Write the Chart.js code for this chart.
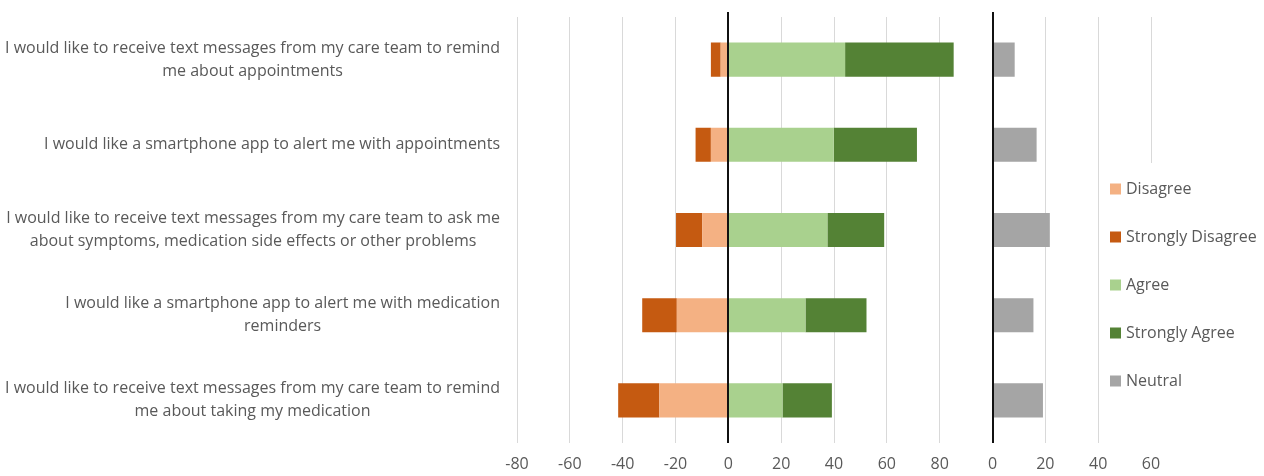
<!DOCTYPE html>
<html>
<head>
<meta charset="utf-8">
<script src="https://cdn.jsdelivr.net/npm/chart.js@4/dist/chart.umd.min.js"></script>
<style>
  html, body { margin: 0; padding: 0; background: #fff; }
  #wrap { position: relative; width: 1264px; height: 476px; }
</style>
</head>
<body>
<div id="wrap"><canvas id="c" width="1264" height="476"></canvas></div>
<script>
// Survey statements (wrapped as shown on the axis)
const statements = [
  ['I would like to receive text messages from my care team to remind', 'me about appointments'],
  ['I would like a smartphone app to alert me with appointments'],
  ['I would like to receive text messages from my care team to ask me', 'about symptoms, medication side effects or other problems'],
  ['I would like a smartphone app to alert me with medication', 'reminders'],
  ['I would like to receive text messages from my care team to remind', 'me about taking my medication']
];

// Percent of respondents per answer
const disagree         = [2.9, 6.6, 9.9, 19.5, 26.1];
const stronglyDisagree = [3.7, 5.8, 9.9, 13.1, 15.6];
const agree            = [44.2, 39.9, 37.5, 29.2, 20.5];
const stronglyAgree    = [41.1, 31.5, 21.5, 23.1, 18.7];
const neutral          = [8.4, 16.7, 21.7, 15.5, 19.1];

// Axis ticks
const mainTicks    = [-80, -60, -40, -20, 0, 20, 40, 60, 80];
const neutralTicks = [0, 20, 40, 60];

const seriesNames  = ['Disagree', 'Strongly Disagree', 'Agree', 'Strongly Agree', 'Neutral'];
const seriesColors = ['#F4B183', '#C55A11', '#A9D18E', '#548235', '#A5A5A5'];

const FONT = '"Open Sans", "Liberation Sans", sans-serif';
const TEXT = '#595959';

// Statement labels: each block right-aligned, its lines centred on each other
const statementLabels = {
  id: 'statementLabels',
  afterDraw(chart) {
    const { ctx } = chart;
    const y = chart.scales.y;
    const right = 500, lh = 23;
    ctx.save();
    ctx.font = '16px ' + FONT;
    ctx.fillStyle = TEXT;
    ctx.textAlign = 'center';
    ctx.textBaseline = 'middle';
    statements.forEach((lines, i) => {
      const cy = y.getPixelForValue(i);
      const w = Math.max(...lines.map(l => ctx.measureText(l).width));
      const cx = right - w / 2;
      lines.forEach((l, j) => ctx.fillText(l, cx, cy + (j - (lines.length - 1) / 2) * lh));
    });
    ctx.restore();
  }
};

// Black zero lines of both panels, drawn over the bars
const zeroLines = {
  id: 'zeroLines',
  afterDatasetsDraw(chart) {
    const { ctx, chartArea } = chart;
    ctx.save();
    ctx.strokeStyle = '#111';
    ctx.lineWidth = 2;
    ['x', 'x2'].forEach(id => {
      const px = Math.round(chart.scales[id].getPixelForValue(0));
      ctx.beginPath();
      ctx.moveTo(px, chartArea.top - 5);
      ctx.lineTo(px, chartArea.bottom);
      ctx.stroke();
    });
    ctx.restore();
  }
};

// Legend box on a white panel at the right
const sideLegend = {
  id: 'sideLegend',
  afterDraw(chart) {
    const { ctx } = chart;
    ctx.save();
    ctx.fillStyle = '#fff';
    ctx.fillRect(1104, 163, 160, 283);
    ctx.font = '16px ' + FONT;
    ctx.textBaseline = 'middle';
    ctx.textAlign = 'left';
    chart.data.datasets.forEach((ds, i) => {
      const cy = 189 + i * 48;
      ctx.fillStyle = ds.backgroundColor;
      ctx.fillRect(1110, cy - 5.5, 11, 11);
      ctx.fillStyle = TEXT;
      ctx.fillText(ds.label, 1126, cy + 0.5);
    });
    ctx.restore();
  }
};

const values = [
  disagree.map(v => -v),
  stronglyDisagree.map(v => -v),
  agree,
  stronglyAgree,
  neutral
];

const datasets = seriesNames.map((name, i) => ({
  label: name,
  data: values[i],
  backgroundColor: seriesColors[i],
  borderWidth: 0,
  xAxisID: i === 4 ? 'x2' : 'x',
  stack: 'all',
  categoryPercentage: 0.4,
  barPercentage: 1
}));

const tickStyle = { color: TEXT, font: { family: FONT, size: 16 }, padding: 12 };

new Chart(document.getElementById('c'), {
  type: 'bar',
  data: { labels: statements.map(s => s.join(' ')), datasets },
  options: {
    indexAxis: 'y',
    responsive: false,
    animation: false,
    devicePixelRatio: 1,
    layout: { padding: { left: 517, right: 113, top: 17, bottom: 0 } },
    plugins: { legend: { display: false }, tooltip: { enabled: false } },
    scales: {
      y: { display: false, stacked: true, offset: true },
      x: {
        position: 'bottom', stack: 'panels', stackWeight: 3,
        min: -80, max: 100, stacked: true,
        afterBuildTicks: s => { s.ticks = mainTicks.map(v => ({ value: v })); },
        afterFit: s => { s.height = 33; },
        grid: { color: '#D9D9D9', lineWidth: 1, drawTicks: false },
        border: { display: false },
        ticks: tickStyle
      },
      x2: {
        position: 'bottom', stack: 'panels', stackWeight: 1,
        min: 0, max: 60, stacked: true,
        afterBuildTicks: s => { s.ticks = neutralTicks.map(v => ({ value: v })); },
        afterFit: s => { s.height = 33; },
        grid: { color: '#D9D9D9', lineWidth: 1, drawTicks: false },
        border: { display: false },
        ticks: tickStyle
      }
    }
  },
  plugins: [zeroLines, statementLabels, sideLegend]
});
</script>
</body>
</html>
